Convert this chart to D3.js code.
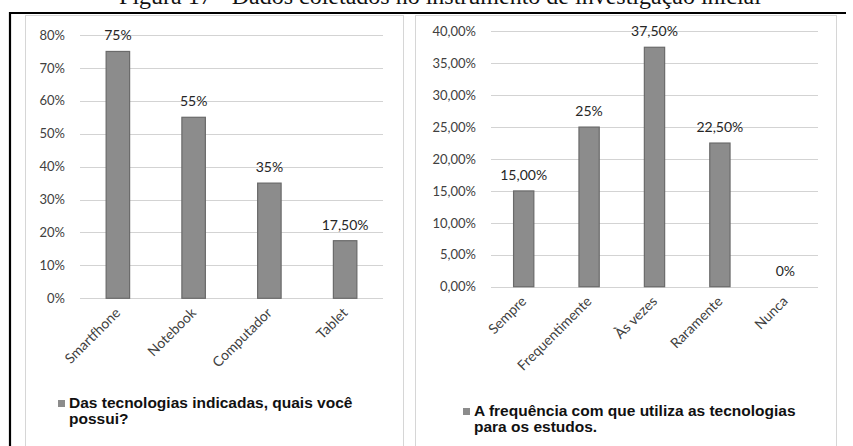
<!DOCTYPE html>
<html><head><meta charset="utf-8">
<script src="https://cdn.jsdelivr.net/npm/d3@7"></script>
<style>body{margin:0;background:#fff}svg{display:block}</style>
</head><body>
<svg id="c" width="853" height="446"></svg>
<script>
const titleText = "Figura 17 - Dados coletados no instrumento de investigação inicial";

const catsA = ["Smartfhone", "Notebook", "Computador", "Tablet"];
const valsA = [0.75, 0.55, 0.35, 0.175];
const labelsA = ["75%", "55%", "35%", "17,50%"];
const ticksA = [0, 0.1, 0.2, 0.3, 0.4, 0.5, 0.6, 0.7, 0.8];
const legendA = ["Das tecnologias indicadas, quais você", "possui?"];

const catsB = ["Sempre", "Frequentimente", "Às vezes", "Raramente", "Nunca"];
const valsB = [0.15, 0.25, 0.375, 0.225, 0];
const labelsB = ["15,00%", "25%", "37,50%", "22,50%", "0%"];
const ticksB = [0, 0.05, 0.10, 0.15, 0.20, 0.25, 0.30, 0.35, 0.40];
const legendB = ["A frequência com que utiliza as tecnologias", "para os estudos."];

const svg = d3.select("#c");
const FONT = "Lato, 'Open Sans', sans-serif";

// title (cut off at top, as in the reference)
svg.append("text").attr("x", 440).attr("y", 4).attr("text-anchor", "middle")
  .attr("font-family", "'Liberation Serif', 'DejaVu Serif', serif").attr("font-size", 24)
  .attr("fill", "#111").text(titleText);

// outer black frame (left + top)
svg.append("line").attr("x1", 10).attr("x2", 10).attr("y1", 12).attr("y2", 446).attr("stroke", "#000").attr("stroke-width", 2.2);
svg.append("line").attr("x1", 9).attr("x2", 846).attr("y1", 13).attr("y2", 13).attr("stroke", "#000").attr("stroke-width", 2.2);

// panels
svg.append("rect").attr("x", 25.5).attr("y", 15.5).attr("width", 378).attr("height", 440).attr("fill", "none").attr("stroke", "#d6d6d6");
svg.append("rect").attr("x", 415.5).attr("y", 15.5).attr("width", 421).attr("height", 440).attr("fill", "none").attr("stroke", "#d6d6d6");

function drawChart(cfg) {
  const g = svg.append("g");
  const x = d3.scaleBand().domain(cfg.cats).range([cfg.x0, cfg.x1]).paddingInner(0.69).paddingOuter(0.345);
  const y = d3.scaleLinear().domain([0, cfg.ymax]).range([cfg.y0, cfg.y1]);

  // gridlines
  g.append("g").selectAll("line").data(cfg.ticks).join("line")
    .attr("x1", cfg.x0).attr("x2", cfg.x1)
    .attr("y1", d => Math.round(y(d)) + 0.5).attr("y2", d => Math.round(y(d)) + 0.5)
    .attr("stroke", "#d3d3d3").attr("stroke-width", 1.2);

  // y axis labels
  const ya = g.append("g").attr("transform", `translate(${cfg.x0 - 15},0)`)
    .call(d3.axisLeft(y).tickValues(cfg.ticks).tickSize(0).tickPadding(0).tickFormat(cfg.fmt));
  ya.select(".domain").remove();
  ya.selectAll("text").attr("font-family", FONT).attr("font-size", 13).attr("fill", "#404040");

  // bars
  g.append("g").selectAll("rect").data(cfg.vals).join("rect")
    .attr("x", (d, i) => x(cfg.cats[i]))
    .attr("width", x.bandwidth())
    .attr("y", d => y(d))
    .attr("height", d => y(0) - y(d))
    .attr("fill", "#8c8c8c").attr("stroke", "#6a6a6a").attr("stroke-width", 1.2);

  // data labels
  g.append("g").selectAll("text").data(cfg.vals).join("text")
    .attr("x", (d, i) => x(cfg.cats[i]) + x.bandwidth() / 2)
    .attr("y", d => y(d) - 11)
    .attr("text-anchor", "middle").attr("font-family", FONT).attr("font-size", 14)
    .attr("fill", "#262626").text((d, i) => cfg.labels[i]);

  // x axis category labels
  const xa = g.append("g").attr("transform", `translate(0,${cfg.y0 + 12})`)
    .call(d3.axisBottom(x).tickSize(0).tickPadding(0));
  xa.select(".domain").remove();
  xa.selectAll("text").attr("font-family", FONT).attr("font-size", 14).attr("fill", "#404040")
    .attr("text-anchor", "end").attr("dy", "0.35em").attr("dx", "0")
    .attr("transform", "rotate(-45)");

  // legend
  const lg = g.append("g");
  lg.append("rect").attr("x", cfg.lx).attr("y", cfg.ly - 8).attr("width", 7).attr("height", 7).attr("fill", "#8c8c8c");
  lg.selectAll("text").data(cfg.legend).join("text")
    .attr("x", cfg.lx + 11).attr("y", (d, i) => cfg.ly + i * 16)
    .attr("font-family", "'Liberation Sans', Arial, sans-serif").attr("font-weight", "bold")
    .attr("font-size", 15.5).attr("fill", "#111").text(d => d);
}

drawChart({
  cats: catsA, vals: valsA, labels: labelsA, ticks: ticksA, ymax: 0.8,
  x0: 80, x1: 383, y0: 298.3, y1: 35,
  fmt: d => d3.format(".0f")(d * 100) + "%",
  legend: legendA, lx: 58, ly: 408
});

drawChart({
  cats: catsB, vals: valsB, labels: labelsB, ticks: ticksB, ymax: 0.4,
  x0: 491, x1: 818, y0: 286.7, y1: 31.3,
  fmt: d => d3.format(".2f")(d * 100).replace(".", ",") + "%",
  legend: legendB, lx: 463, ly: 416
});
</script>
</body></html>
